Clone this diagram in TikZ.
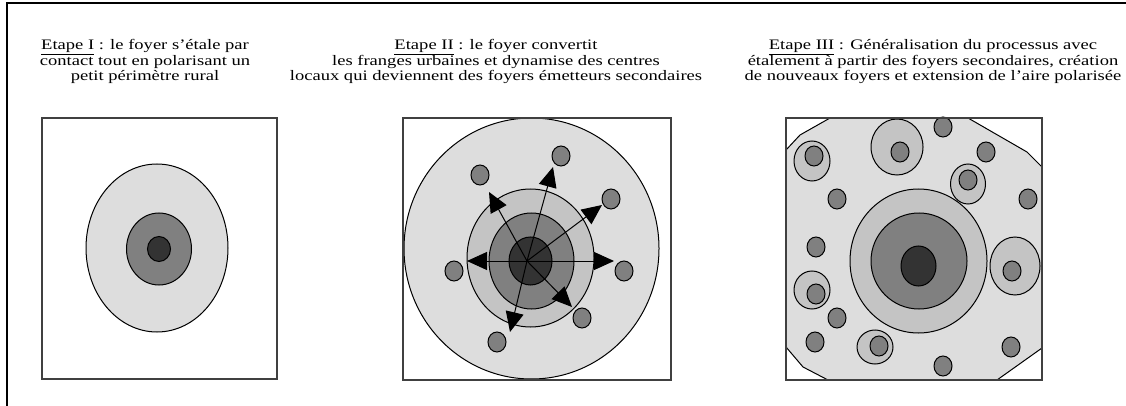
\documentclass[tikz,border=0pt]{standalone}
\usepackage{fontspec}
\setmainfont{Liberation Serif}[FakeStretch=1.28]
\usetikzlibrary{arrows.meta,shapes.geometric}
\definecolor{zoneLight}{HTML}{DDDDDD}
\definecolor{zoneMid}{HTML}{C4C4C4}
\definecolor{zoneDark}{HTML}{808080}
\definecolor{zoneCore}{HTML}{333333}
\begin{document}
\begin{tikzpicture}[x=1pt,y=-1pt,
  frameBox/.style={draw=black!75, line width=1.3pt},
  zone/.style    ={draw=black, line width=1pt},
  dotSec/.style  ={ellipse, draw=black, fill=zoneDark, line width=1pt, minimum width=18pt, minimum height=20pt, inner sep=0pt},
  spread/.style  ={line width=1pt, -{Triangle[length=20pt,width=18pt]}},
  caption/.style ={font=\fontsize{14.5}{15.8}\selectfont, align=center, anchor=base, inner sep=0pt},
]
\useasboundingbox (0,0) rectangle (1126,406);
% page frame (only top and left edges show)
\draw[line width=2.3pt] (1126,3) -- (7,3) -- (7,406);
% captions (anchor = baseline of the last line)
\node[caption] (capI) at (145,81) {\underline{Etape I} : le foyer s’étale par\\contact tout en polarisant un\\petit périmètre rural};
\node[caption] (capII) at (496,81) {\underline{Etape II} : le foyer convertit\\les franges urbaines et dynamise des centres\\locaux qui deviennent des foyers émetteurs secondaires};
\node[caption] (capIII) at (933,81) {\underline{Etape III} : Généralisation du processus avec\\étalement à partir des foyers secondaires, création\\de nouveaux foyers et extension de l’aire polarisée};
% Etape I: single foyer
\draw[zone, fill=zoneLight] (157,248) ellipse [x radius=71, y radius=84];
\draw[zone, fill=zoneDark] (159,249) ellipse [x radius=32.5, y radius=36];
\draw[zone, fill=zoneCore] (159,249) ellipse [x radius=11.5, y radius=12.5];
\draw[frameBox] (42,118) rectangle (277,379);
% Etape II: conversion of the fringes + secondary centres
\draw[zone, fill=zoneLight] (531.5,248.5) ellipse [x radius=127.5, y radius=130.5];
\draw[zone, fill=zoneMid] (530.5,258) ellipse [x radius=63.5, y radius=69];
\draw[zone, fill=zoneDark] (531.5,261) ellipse [x radius=42.5, y radius=48];
\draw[zone, fill=zoneCore] (530.5,261) ellipse [x radius=21.5, y radius=24];
\coordinate (hub) at (527,261);
\foreach \n/\x/\y in {a/480/175, b/561/156, c/611/199, d/454/271, e/624/271, f/582/318, g/497/342}
  \node[dotSec] (sec\n) at (\x,\y) {};
\foreach \n/\x/\y in {w/467/261, e/614/261, nw/489/192, n/553/167, ne/602/205, se/572/307, s/510/332}
  \coordinate (tip\n) at (\x,\y);
\foreach \n in {w,e,nw,n,ne,se,s}
  \draw[spread] (hub) -- (tip\n);
\draw[frameBox] (403,118) rectangle (671,380);
% Etape III: generalisation, polarised area almost fills the box
\draw[zone, fill=zoneLight] (830,118) -- (968,118) -- (1027,152) -- (1042,167) -- (1042,348)
  -- (997,380) -- (828,380) -- (803,367) -- (786,347) -- (786,150) -- (800,135) -- cycle;
\draw[zone, fill=zoneMid] (918.5,261) ellipse [x radius=68.5, y radius=72];
\draw[zone, fill=zoneDark] (919,261) ellipse [x radius=48, y radius=48];
\draw[zone, fill=zoneCore] (918.5,266) ellipse [x radius=17.5, y radius=20];
% secondary foyers with their own spread
\foreach \n/\x/\y/\rx/\ry/\dx/\dy in {%
  a/897/147/26/28/900/152,
  b/812/161/18/20/814/156,
  c/968/184/17.5/20/968/180,
  d/1015/266/25/29/1012/271,
  e/812/290/18/19/816/294,
  f/875/347/18/17/879/346%
} {
  \draw[zone, fill=zoneMid] (\x,\y) ellipse [x radius=\rx, y radius=\ry];
  \node[dotSec] (ring\n) at (\dx,\dy) {};
}
% new foyers
\foreach \n/\x/\y in {a/943/127, b/986/152, c/837/199, d/1028/199, e/816/247, f/837/318, g/815/342, h/1011/347, i/943/366}
  \node[dotSec] (new\n) at (\x,\y) {};
\draw[frameBox] (786,118) rectangle (1042,380);
\end{tikzpicture}
\end{document}
